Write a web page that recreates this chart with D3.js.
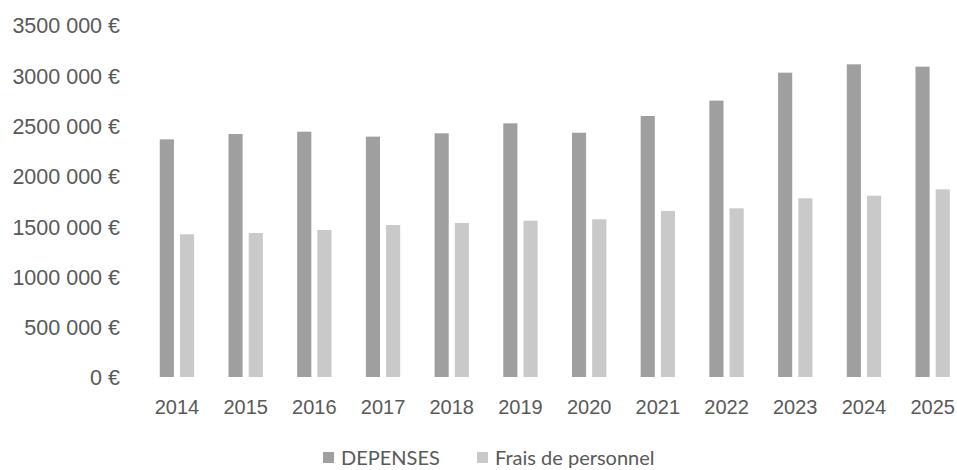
<!DOCTYPE html>
<html>
<head>
<meta charset="utf-8">
<script src="https://cdn.jsdelivr.net/npm/d3@7"></script>
<style>
  body { margin: 0; background: #fff; }
  svg { display: block; font-family: Lato, "Open Sans", sans-serif; }
  .axis text { fill: #595959; font-size: 20px; }
  .y-axis text { font-size: 21.5px; }
</style>
</head>
<body>
<div id="chart"></div>
<script>
"use strict"

// Data
const years = ["2014", "2015", "2016", "2017", "2018", "2019", "2020", "2021", "2022", "2023", "2024", "2025"]
const depenses = [2363000, 2416000, 2439000, 2390000, 2423000, 2522000, 2429000, 2595000, 2748000, 3026000, 3109000, 3086000]
const fraisPersonnel = [1419000, 1432000, 1462000, 1511000, 1531000, 1554000, 1568000, 1651000, 1677000, 1777000, 1803000, 1866000]
const seriesNames = ["DEPENSES", "Frais de personnel"]
const yTicks = [0, 500000, 1000000, 1500000, 2000000, 2500000, 3000000, 3500000]
const yTickLabels = ["0 €", "500 000 €", "1000 000 €", "1500 000 €", "2000 000 €", "2500 000 €", "3000 000 €", "3500 000 €"]

const colors = ["#9f9f9f", "#c9c9c9"]

const width = 957
const height = 470

const rows = years.map((y, i) => ({year: y, values: [depenses[i], fraisPersonnel[i]]}))

const svg = d3.select("#chart").append("svg")
    .attr("width", width)
    .attr("height", height)

// Scales
const x0 = d3.scaleBand().domain(years).range([142.6, 967]).paddingInner(0.5).paddingOuter(0.25)
const x1 = d3.scaleBand().domain([0, 1]).range([0, x0.bandwidth()]).paddingInner(0.3)
const y = d3.scaleLinear().domain([0, 3500000]).range([377, 25])

// Y axis (no line, no ticks)
const yAxis = d3.axisLeft(y).tickValues(yTicks).tickSize(0).tickPadding(0)
    .tickFormat((d, i) => yTickLabels[i])
svg.append("g")
    .attr("class", "axis y-axis")
    .attr("transform", "translate(120,1)")
    .call(yAxis)
    .call(g => g.select(".domain").remove())

// X axis
const xAxis = d3.axisBottom(x0).tickSize(0).tickPadding(0)
svg.append("g")
    .attr("class", "axis")
    .attr("transform", "translate(0,400)")
    .call(xAxis)
    .call(g => g.select(".domain").remove())

// Bars
const groups = svg.append("g").selectAll("g")
    .data(rows)
    .join("g")
    .attr("transform", d => `translate(${x0(d.year)},0)`)

groups.selectAll("rect")
    .data(d => d.values)
    .join("rect")
    .attr("x", (d, i) => x1(i))
    .attr("width", x1.bandwidth())
    .attr("y", d => y(d))
    .attr("height", d => y(0) - y(d))
    .attr("fill", (d, i) => colors[i])

// Legend
const legendX = [323, 477]
const legend = svg.append("g").selectAll("g")
    .data(seriesNames)
    .join("g")
    .attr("transform", (d, i) => `translate(${legendX[i]},452)`)

legend.append("rect")
    .attr("width", 11)
    .attr("height", 11)
    .attr("fill", (d, i) => colors[i])

legend.append("text")
    .attr("x", 18)
    .attr("y", 6)
    .attr("dy", "0.35em")
    .attr("fill", "#595959")
    .style("font-size", "20px")
    .text(d => d)
</script>
</body>
</html>
